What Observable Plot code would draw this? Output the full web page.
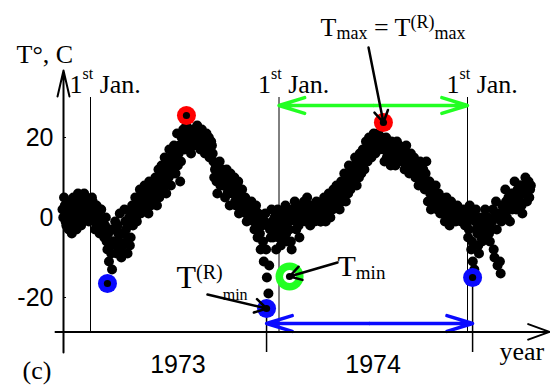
<!DOCTYPE html>
<html><head><meta charset="utf-8">
<script src="https://cdn.jsdelivr.net/npm/d3@7"></script>
<script src="https://cdn.jsdelivr.net/npm/@observablehq/plot@0.6"></script>
<style>body{margin:0;background:#fff} svg text{white-space:pre}</style>
</head><body><div id="chart"></div>
<script>
// ---------------- data ----------------
const seriesStart = 1972.8515;   // decimal year of the first sample
const stepDays = 3;              // sampling interval of each sample list (days)
const offsetDays = 1.5;          // the second list is sampled between the first
const temps = [
  2, 5, -1, 4, -3, 1, -4,
  5, 1, -3, 6, 2, -2,
  3, 6, 0, 4, -1, 2, 5,
  1, -3, 3, -1, -4, 2,
  -1, -5, 0, -8, -11, -3, -13,
  -6, -1, -9, -4, 1, -10,
  -7, 2, -3, -9, 0, -5, 3,
  1, 5, -1, 3, 7, 2,
  4, 8, 2, 6, 9, 3, 7,
  5, 10, 3, 12, 7, 13,
  9, 15, 6, 12, 17, 8, 14,
  18, 11, 21, 16, 9, 20,
  22, 17, 23, 19, 21, 16, 22,
  18, 21, 23, 19, 17, 22,
  20, 16, 21, 18, 15, 19,
  16, 10, 13, 6, 11, 8, 12,
  10, 5, 12, 7, 3, 9,
  6, 10, 3, 8, 1, 5, 7,
  2, 5, -1, 3, 0, 4,
  1, -3, 3, -5, 0, -8, -2,
  -11, 1, -15, -19, -3, 2,
  -5, 0, -8, 2, -3, -7, 1,
  -2, 3, -6, -1, 2, -8,
  0, 4, -3, 2, -5, 1, 3,
  4, -1, 5, 1, -2, 3,
  2, -1, 4, 0, 3, -1,
  1, 5, -1, 3, 6, 0, 4,
  7, 3, 8, 5, 2, 9,
  6, 11, 4, 9, 13, 7, 12,
  10, 15, 8, 13, 16, 11,
  17, 12, 19, 14, 20, 16, 18,
  21, 16, 19, 21, 17, 20,
  19, 14, 20, 16, 18, 13, 17,
  18, 13, 19, 15, 17, 14,
  17, 12, 18, 14, 11, 16, 13,
  15, 10, 13, 8, 14, 9,
  12, 7, 14, 4, 9, 2, 6,
  5, 8, 2, 6, 1, 4,
  3, -1, 5, 1, -2, 4, 0,
  1, -1, 3, 0, 2, -1,
  2, -2, 1, -5, 3, -8, -11,
  -13, 2, -4, -9, 0, -6,
  -2, 2, -5, 0, -6, -3,
  2, -10, 4, -12, 0, -14, 3,
  3, 7, 0, 5, -1, 6,
  5, 9, 2, 7, 4, 8, 1,
  6, 10, 4, 9, 7
];
const tempsBetween = [
  0, 3, -2, 2, 0, -2, 1,
  3, -1, 4, 0, -1, 4,
  1, 4, 2, 0, 3, 1, 4,
  -1, 1, -2, 0, 2, -2,
  -3, -2, -6, -4, -7, -9, -6,
  -3, -7, -2, -6, -8, -4,
  -4, -1, -6, -2, -7, 1, -2,
  3, 0, 2, 5, 1, 4,
  6, 3, 5, 1, 5, 7, 4,
  8, 6, 9, 5, 10, 9,
  11, 8, 13, 10, 12, 15, 11,
  14, 17, 13, 18, 14, 17,
  19, 20, 18, 22, 18, 20, 19,
  20, 19, 21, 18, 20, 19,
  18, 19, 17, 20, 17, 18,
  14, 12, 9, 11, 14, 10, 8,
  8, 10, 6, 9, 11, 6,
  8, 4, 6, 9, 4, 3, 5,
  3, 1, 4, 1, 2, 0,
  -1, 2, -2, 1, -4, -1, -6,
  -1, -8, -2, -12, -5, -1,
  -2, -4, 0, -5, -1, -3, -5,
  0, -4, 1, -3, -6, 0,
  2, -1, 1, -2, 3, -1, 0,
  2, 0, 3, 3, 1, 0,
  1, 3, 1, 2, -1, 2,
  3, 2, 4, 1, 2, 4, 2,
  5, 6, 4, 7, 6, 4,
  8, 7, 10, 6, 10, 9, 10,
  13, 11, 14, 10, 13, 14,
  15, 16, 14, 17, 18, 15, 19,
  18, 20, 17, 19, 20, 18,
  17, 18, 15, 18, 16, 19, 15,
  16, 17, 15, 18, 16, 16,
  15, 14, 16, 13, 15, 14, 12,
  12, 13, 11, 12, 10, 11,
  10, 11, 8, 9, 6, 4, 7,
  3, 6, 4, 3, 5, 2,
  1, 2, 3, -1, 2, 1, 3,
  2, 0, 1, 2, -1, 1,
  0, 1, -1, -3, 0, -6, 1,
  -1, -3, -7, -2, -5, -1,
  -4, 0, -2, -4, -1, -1,
  -8, 0, -3, 1, -11, -1, 1,
  1, 4, 2, 3, 5, 2,
  6, 3, 6, 5, 8, 3, 6,
  8, 7, 9, 5, 8
];
const maxDates = [1973.509, 1974.554];
const maxValues = [25.5, 23.75];
const rMinDates = [1973.090, 1973.934, 1975.027];
const rMinValues = [-16.5, -22.75, -15];
const minDates = [1974.056];
const minValues = [-14.75];
const janFirst = [1973, 1974, 1975];
const yTicks = [20, 0, -20];
const yearLabels = ["1973", "1974"];
const yearLabelDates = [1973.464, 1974.499];

// ---------------- layout constants (data units) ----------------
const axisX = 1972.8568, axisTop = 36.75, axisBottom = -33.75;
const axisLevel = -28.6, axisLeft = 1972.8143, axisRight = 1975.435;
const tickLen = 0.016;
const janTop = 30, janLabelT = 31.25;
const greenArrowT = 28, blueArrowT = -26.5;
const RED = "#ff0000", BLUE = "#0a0aff", GREEN = "#22ff22";
const SERIF = "'Liberation Serif','Times New Roman',serif";
const SANS = "'Liberation Sans',Arial,sans-serif";

const richLabels = {
  "1st Jan.": [["1", 26, 0], ["st", 16, -14], [" Jan.", 26, 0]],
  "Tmax = T(R)max": [["T", 26, 0], ["max", 18, 3], [" = ", 26, 0], ["T", 26, 0], ["(R)", 18, -8], ["max", 18, 3]],
  "T(R)min": [["T", 32, 0], ["(R)", 20, -9], ["min", 16, 12]],
  "Tmin": [["T", 30, 0], ["min", 19, 3]]
};
const notes = [
  {text: "T°, C", x: 1972.6074, y: 38.75},
  {text: "(c)", x: 1972.6393, y: -40.25},
  {text: "year", x: 1975.1698, y: -35.5},
  {text: "Tmax = T(R)max", x: 1974.2202, y: 45.5},
  {text: "T(R)min", x: 1973.4562, y: -17.5},
  {text: "Tmin", x: 1974.3103, y: -14.5}
];
const pointers = [
  {x1: 1974.475, y1: 42.5, x2: maxDates[1], y2: maxValues[1], inset: 11},
  {x1: 1973.6207, y1: -19.25, x2: rMinDates[1], y2: rMinValues[1], inset: 8.5},
  {x1: 1974.3103, y1: -11.25, x2: minDates[0], y2: minValues[0], inset: 11}
];

const series = [
  ...temps.map((v, i) => ({t: seriesStart + i * stepDays / 365.25, v})),
  ...tempsBetween.map((v, i) => ({t: seriesStart + (i * stepDays + offsetDays) / 365.25, v}))
];
const greenMid = (janFirst[1] + janFirst[2]) / 2;
const blueMid = (rMinDates[1] + rMinDates[2]) / 2;
const allX = [...maxDates, ...rMinDates, ...minDates];
const allY = [...maxValues, ...rMinValues, ...minValues];

const plot = Plot.plot({
  width: 550, height: 387, margin: 0,
  x: {type: "linear", domain: [1973, 1975], range: [90, 467], axis: null},
  y: {type: "linear", domain: [-20, 20], range: [297, 137], axis: null},
  style: {background: "white", overflow: "visible"},
  marks: [
    Plot.ruleX(janFirst, {y1: axisLevel, y2: janTop, stroke: "black", strokeWidth: 1}),
    Plot.ruleX(rMinDates.slice(1), {y1: rMinValues.slice(1), y2: axisBottom, stroke: "black", strokeWidth: 1.5}),
    Plot.dot(series, {x: "t", y: "v", r: 5, fill: "black"}),
    Plot.dot(maxValues, {x: maxDates, y: maxValues, r: 9.5, fill: RED}),
    Plot.dot(rMinValues, {x: rMinDates, y: rMinValues, r: 9.5, fill: BLUE}),
    Plot.dot(minValues, {x: minDates, y: minValues, r: 14, fill: GREEN}),
    Plot.dot(minValues, {x: minDates, y: minValues, r: 6.5, fill: "white"}),
    Plot.dot(allY, {x: allX, y: allY, r: 3.6, fill: "black"}),
    // double arrows
    Plot.arrow([janFirst[1], janFirst[2]], {x1: () => greenMid, x2: d => d, y: greenArrowT, stroke: GREEN, strokeWidth: 3.5, headLength: 11.5, headAngle: 34}),
    Plot.arrow([rMinDates[1], rMinDates[2]], {x1: () => blueMid, x2: d => d, y: blueArrowT, stroke: BLUE, strokeWidth: 3.5, headLength: 11.5, headAngle: 34}),
    // pointers
    Plot.arrow(pointers, {x1: "x1", y1: "y1", x2: "x2", y2: "y2", insetEnd: d => d.inset, stroke: "black", strokeWidth: 2.5, headLength: 8, headAngle: 62}),
    // axes
    Plot.arrow([0], {x: axisX, y1: axisBottom, y2: axisTop, stroke: "black", strokeWidth: 2, headLength: 20, headAngle: 26}),
    Plot.arrow([0], {x1: axisLeft, x2: axisRight, y: axisLevel, stroke: "black", strokeWidth: 2, headLength: 17, headAngle: 40}),
    Plot.ruleY(yTicks, {x1: axisX, x2: axisX + tickLen, stroke: "black", strokeWidth: 1}),
    Plot.text(yTicks, {x: () => axisX, y: d => d, text: d => String(d), textAnchor: "end", dx: -10, fontSize: 25, fontFamily: SANS, fill: "black"}),
    Plot.text(yearLabels, {x: yearLabelDates, y: -38.75, text: d => d, lineAnchor: "bottom", fontSize: 25, fontFamily: SANS, fill: "black"}),
    Plot.text(janFirst, {x: d => d, y: janLabelT, text: () => "1st Jan.", dx: -21, textAnchor: "start", lineAnchor: "bottom", fontSize: 26, fontFamily: SERIF, fill: "black"}),
    Plot.text(notes, {x: "x", y: "y", text: "text", textAnchor: "start", lineAnchor: "bottom", fontSize: 26, fontFamily: SERIF, fill: "black"})
  ]
});

// rich text: sub/superscripts
d3.select(plot).selectAll("text").each(function () {
  const segs = richLabels[this.textContent];
  if (!segs) return;
  const el = d3.select(this);
  el.text(null);
  let cur = 0;
  for (const [s, size, off] of segs) {
    el.append("tspan").attr("font-size", size).attr("dy", off - cur).text(s);
    cur = off;
  }
});

document.getElementById("chart").append(plot);
</script>
</body></html>
